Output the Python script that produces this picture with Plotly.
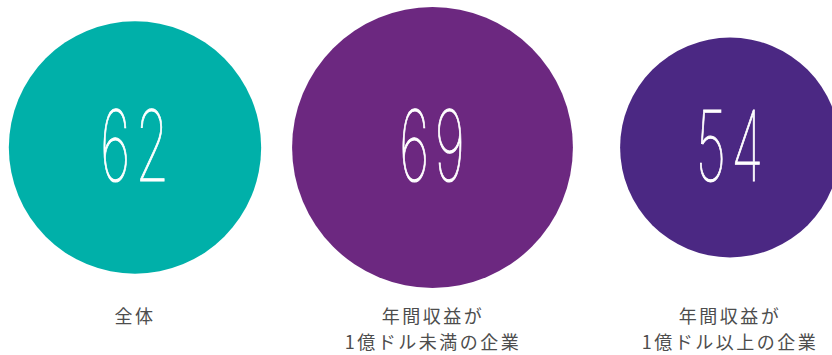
import plotly.graph_objects as go

# Survey scores by company group
categories = ["全体", "年間収益が<br>1億ドル未満の企業", "年間収益が<br>1億ドル以上の企業"]
values = [62, 69, 54]
colors = ["#00B0A9", "#6C2880", "#4B2883"]

W, H = 832, 355
px_per_value = 4.07          # bubble diameter in px per point of score
step = 297.5                 # px between bubble centres
x0 = 135                     # px of first bubble centre
cy = 147.5                   # px of bubble centres from top
label_top = 314.5            # px of first label line centre
line_pitch = 26.5            # px between label lines

xs = list(range(len(values)))

fig = go.Figure()
fig.add_trace(go.Scatter(
    x=xs,
    y=[0] * len(values),
    mode="markers+text",
    text=[str(v) for v in values],
    textposition="middle center",
    textfont=dict(family="Inter", size=98, color="white", weight=100),
    marker=dict(
        size=values,
        sizemode="diameter",
        sizeref=1 / px_per_value,
        color=colors,
        line=dict(width=0),
        opacity=1,
    ),
    hoverinfo="skip",
    cliponaxis=False,
))

for i, label in enumerate(categories):
    for j, line in enumerate(label.split("<br>")):
        fig.add_annotation(
            x=xs[i], y=cy - (label_top + j * line_pitch),
            text=line, showarrow=False,
            xanchor="center", yanchor="middle", align="center",
            font=dict(family="Noto Sans CJK JP", size=18, color="#4D4D4D"),
        )

fig.update_layout(
    width=W, height=H,
    margin=dict(l=0, r=0, t=0, b=0),
    paper_bgcolor="white", plot_bgcolor="white",
    showlegend=False,
    xaxis=dict(range=[-x0 / step, (W - x0) / step], visible=False, fixedrange=True),
    yaxis=dict(range=[-(H - cy), cy], visible=False, fixedrange=True),
)

# condensed hairline numerals and tracked label text
post = """
var gd = document.getElementsByClassName('plotly-graph-div')[0];
function condense(){
  gd.querySelectorAll('.textpoint text').forEach(function(t){
    t.style.letterSpacing = '9px';
    t.style.transformBox = 'fill-box';
    t.style.transformOrigin = 'center';
    t.style.transform = 'translate(2px, 9px) scaleX(0.55)';
    t.style.stroke = 'white';
    t.style.strokeWidth = '0.9px';
    t.style.vectorEffect = 'non-scaling-stroke';
  });
  gd.querySelectorAll('.annotation-text').forEach(function(t){
    t.style.letterSpacing = '2.5px';
  });
}
condense();
gd.on('plotly_afterplot', condense);
"""

fig.write_html("out.html", post_script=post)
